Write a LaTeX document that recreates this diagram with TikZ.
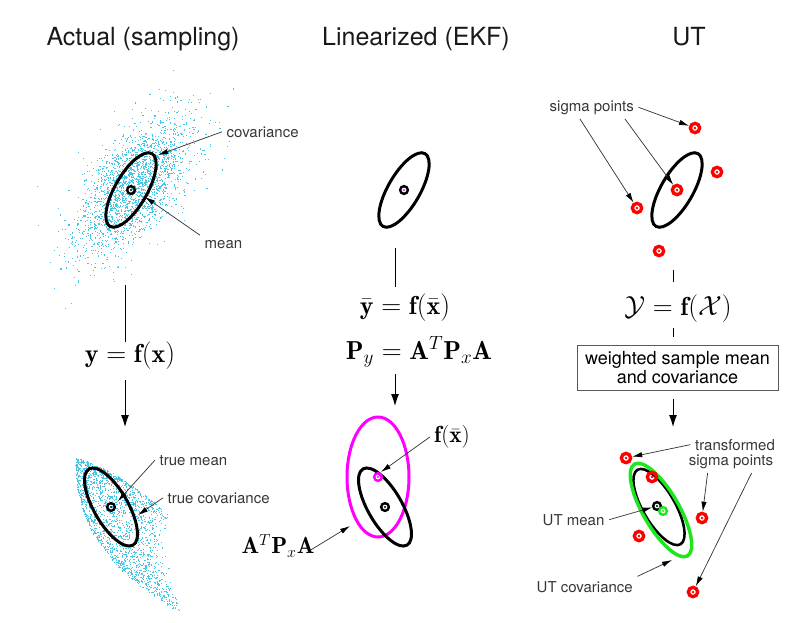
\documentclass[tikz,border=0pt]{standalone}
\usepackage{fontspec}
\newfontfamily\helv{TeX Gyre Heros}
\usetikzlibrary{calc,arrows.meta}

\definecolor{cloudcyan}{RGB}{70,198,228}
\definecolor{ptred}{RGB}{255,0,0}
\definecolor{ekfmag}{RGB}{255,0,255}
\definecolor{utgreen}{RGB}{30,230,30}
\definecolor{lblgray}{RGB}{55,55,55}

\tikzset{
	ttl/.style={font=\helv\fontsize{18.75}{22}\selectfont, anchor=base, text=black!90},
	lbl/.style={font=\helv\fontsize{11.25}{11.25}\selectfont, text=lblgray, anchor=base west},
	eqn/.style={font=\fontsize{19.5}{22}\selectfont, inner sep=0pt},
	eqlbl/.style={font=\fontsize{17.5}{20}\selectfont, inner sep=0pt},
	lblarrow/.style={draw=lblgray, line width=0.55pt, -{Latex[length=7.5pt,width=4pt,color=black]}},
	flowarrow/.style={line width=0.75pt, -{Latex[length=9pt,width=6pt]}},
	cov/.style={line width=2.25pt},
	meanpt/.style={circle, draw=black, line width=1.8pt, minimum size=5.8pt, inner sep=0pt,
		path picture={\fill[#1] (path picture bounding box.center) circle (0.85pt);}},
	meanpt/.default=black,
	sigpt/.style={circle, draw=ptred, line width=2.5pt, minimum size=7pt, inner sep=0pt,
		path picture={\fill[ptred] (path picture bounding box.center) circle (0.95pt);}},
}

\begin{document}
\begin{tikzpicture}[x=0.75pt,y=0.75pt,yscale=-1,xscale=1]
	\useasboundingbox (0,0) rectangle (800,622);
	\pgfmathsetseed{2718}
	
	% Titles
	\node[ttl] (ttlA) at (143,45) {Actual (sampling)};
	\node[ttl] (ttlB) at (416,45) {Linearized (EKF)};
	\node[ttl] (ttlC) at (689,45) {UT};
	
	%% ---------- Actual (sampling) ----------
	% prior samples
	\foreach \i in {1,...,2300}{
		\pgfmathsetmacro\rad{sqrt(-2*ln(0.0001+0.9999*rnd))}
		\pgfmathsetmacro\ang{360*rnd}
		\pgfmathsetmacro\ga{\rad*cos(\ang)}
		\pgfmathsetmacro\gb{\rad*sin(\ang)}
		\pgfmathsetmacro\px{133+40*\ga*0.6+19*\gb*0.8}
		\pgfmathsetmacro\py{185-40*\ga*0.8+19*\gb*0.6}
		\fill[cloudcyan] (\px,\py) rectangle ++(1.1,1.1);
	}
	% transformed samples (folded)
	\foreach \i in {1,...,1900}{
		\pgfmathsetmacro\rad{sqrt(-2*ln(0.0001+0.9999*rnd))}
		\pgfmathsetmacro\ang{360*rnd}
		\pgfmathsetmacro\sv{1-exp(-0.6*(abs(\rad*cos(\ang))+0.001)^1.4)}
		\pgfmathsetmacro\tv{1-exp(-0.5*(abs(\rad*sin(\ang))+0.001)^1.6)}
		\pgfmathsetmacro\lx{(1-\tv)^2*75+2*\tv*(1-\tv)*72+\tv^2*183}
		\pgfmathsetmacro\ly{(1-\tv)^2*457+2*\tv*(1-\tv)*555+\tv^2*613}
		\pgfmathsetmacro\rx{(1-\tv)^2*175+2*\tv*(1-\tv)*160+\tv^2*183}
		\pgfmathsetmacro\ry{(1-\tv)^2*520+2*\tv*(1-\tv)*560+\tv^2*613}
		\pgfmathsetmacro\px{(1-\sv)*\lx+\sv*\rx+1.5*rnd}
		\pgfmathsetmacro\py{(1-\sv)*\ly+\sv*\ry-30*\sv*(1-\sv)*(1-\tv)+1.5*rnd}
		\fill[cloudcyan] (\px,\py) rectangle ++(1.1,1.1);
	}
	
	\coordinate (cA1) at (131,190);
	\coordinate (cA2) at (111,507);
	\draw[cov, rotate around={-60:(cA1)}] (cA1) ellipse (42 and 16);
	\draw[cov, rotate around={60:(cA2)}] (cA2) ellipse (44 and 17);
	\node[meanpt] (mA1) at (cA1) {};
	\node[meanpt] (mA2) at (cA2) {};
	
	% Text Node
	\node[lbl] (covlbl) at (222,137) {covariance};
	\node[lbl] (meanlbl) at (200,248) {mean};
	\node[lbl] (tmlbl) at (155,465) {true mean};
	\node[lbl] (tclbl) at (163,503) {true covariance};
	\coordinate (covtip) at (158,155);
	\coordinate (meantip) at (145,197);
	\coordinate (tmtip) at (118,501);
	\coordinate (tctip) at (138,515);
	\draw[lblarrow] (covlbl.west) -- (covtip);
	\draw[lblarrow] (meanlbl.north west) -- (meantip);
	\draw[lblarrow] (tmlbl.west) -- (tmtip);
	\draw[lblarrow] (tclbl.west) -- (tctip);
	
	% map
	\node[eqn] (eqA) at (130,356) {$\mathbf{y} = \mathbf{f}(\mathbf{x})$};
	\coordinate (lnAtop) at (125,285);
	\coordinate (arAend) at (125,427);
	\draw[line width=0.75pt] (lnAtop) -- (lnAtop |- eqA.north);
	\draw[flowarrow, shorten <=7.5pt] (lnAtop |- eqA.south) -- (arAend);
	
	%% ---------- Linearized (EKF) ----------
	\coordinate (cB1) at (404,190);
	\coordinate (cB2) at (385,507);
	\coordinate (cBf) at (378,477);
	\draw[cov, rotate around={-60:(cB1)}] (cB1) ellipse (42 and 16);
	\draw[cov, draw=ekfmag] (cBf) ellipse (31 and 60);
	\draw[cov, rotate around={60:(cB2)}] (cB2) ellipse (44 and 17);
	\node[meanpt=ekfmag] (mB1) at (cB1) {};
	\node[meanpt=ekfmag, draw=ekfmag] (mBf) at (cBf) {};
	\node[meanpt] (mB2) at (cB2) {};
	
	\node[eqn] (eqB1) at (405,308) {$\bar{\mathbf{y}} = \mathbf{f}(\bar{\mathbf{x}})$};
	\node[eqn] (eqB2) at (419,352) {$\mathbf{P}_y = \mathbf{A}^T\mathbf{P}_x\mathbf{A}$};
	\coordinate (lnBtop) at (395,248);
	\coordinate (arBend) at (395,406);
	\draw[line width=0.75pt, shorten >=5pt] (lnBtop) -- (lnBtop |- eqB1.north);
	\draw[flowarrow, shorten <=4.5pt] (lnBtop |- eqB2.south) -- (arBend);
	
	\node[eqlbl] (fxlbl) at (452,437) {$\mathbf{f}(\bar{\mathbf{x}})$};
	\node[eqlbl] (atpalbl) at (278,546) {$\mathbf{A}^T\mathbf{P}_x\mathbf{A}$};
	\coordinate (fxtip) at (381,472);
	\coordinate (atpatip) at (350,526);
	\draw[lblarrow] ([xshift=-3pt]fxlbl.west) -- (fxtip);
	\draw[lblarrow] ([xshift=-3pt,yshift=3pt]atpalbl.east) -- (atpatip);
	
	%% ---------- UT ----------
	\coordinate (cC1) at (677,190);
	\coordinate (cC2) at (659,507);
	\coordinate (cCg) at (661,510);
	\draw[cov, rotate around={-60:(cC1)}] (cC1) ellipse (42 and 16);
	\draw[line width=1.9pt, rotate around={60:(cC2)}] (cC2) ellipse (43 and 16);
	\draw[line width=2.6pt, draw=utgreen, rotate around={60:(cCg)}] (cCg) ellipse (53 and 18);
	
	% sigma points
	\node[sigpt] (s0) at (cC1) {};
	\node[sigpt] (s1) at (695,128) {};
	\node[sigpt] (s2) at (717,172) {};
	\node[sigpt] (s3) at (637,208) {};
	\node[sigpt] (s4) at (659,251) {};
	% transformed sigma points
	\node[sigpt] (t1) at (626,458) {};
	\node[sigpt] (t2) at (652,477) {};
	\node[sigpt] (t3) at (702,518) {};
	\node[sigpt] (t4) at (639,536) {};
	\node[sigpt] (t5) at (693,592) {};
	\node[meanpt] (utm) at (657,506) {};
	\node[meanpt=utgreen, draw=utgreen] (utg) at (663,511) {};
	
	\node[lbl] (sglbl) at (545,111) {sigma points};
	\draw[lblarrow] (sglbl.east) -- (s1);
	\draw[lblarrow] ($(sglbl.south west)+(35,0)$) -- (s3);
	\draw[lblarrow] ($(sglbl.south west)+(80,0)$) -- (s0);
	
	\node[lbl, anchor=base] (tsp1) at (735,450) {transformed};
	\node[lbl, anchor=base] (tsp2) at (731,465) {sigma points};
	\draw[lblarrow] (tsp1.west) -- (t1);
	\draw[lblarrow] ($(tsp2.south west)!0.25!(tsp2.south east)$) -- (t3);
	\draw[lblarrow] ($(tsp2.south west)!0.72!(tsp2.south east)$) -- (t5);
	
	\node[lbl] (utmlbl) at (538,525) {UT mean};
	\node[lbl] (utclbl) at (532,592) {UT covariance};
	\coordinate (utctip) at (672,560);
	\draw[lblarrow] (utmlbl.east) -- (utm);
	\draw[lblarrow] (utclbl.north east) -- (utctip);
	
	\node[eqn] (eqC) at (678,309) {$\mathcal{Y} = \mathbf{f}(\mathcal{X})$};
	\node[draw=black!65, line width=0.75pt, minimum width=150.75pt, minimum height=33.75pt, align=center,
		font=\helv\fontsize{13.5}{11.25}\selectfont, inner sep=0pt] (wbox) at (677.5,367.5) {weighted sample mean\\and covariance};
	\coordinate (tkCtop) at (673,270);
	\coordinate (arCend) at (673,427);
	\draw[line width=0.75pt, shorten >=9.75pt] (tkCtop) -- (tkCtop |- eqC.north);
	\draw[line width=0.75pt, shorten <=3.75pt, shorten >=6pt] (eqC.south -| tkCtop) -- (wbox.north -| tkCtop);
	\draw[flowarrow, shorten <=6pt] (wbox.south -| tkCtop) -- (arCend);
	
\end{tikzpicture}
\end{document}
